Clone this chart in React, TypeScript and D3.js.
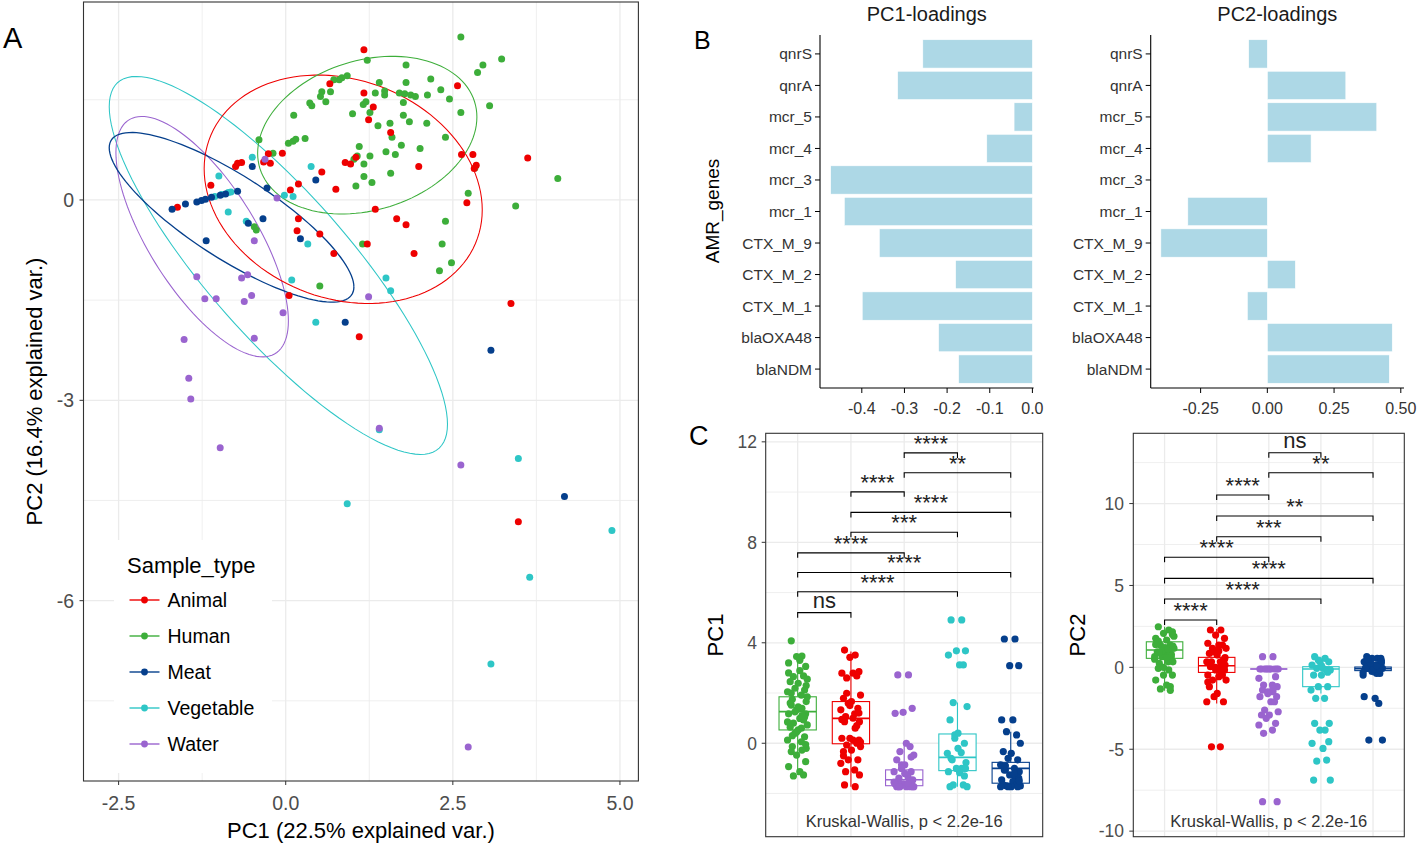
import React from 'react';
import * as d3 from 'd3';

const FONT = '"Liberation Sans", Arial, Helvetica, sans-serif';

// ---------- Panel A : PCA biplot ----------
const SAMPLE_TYPES = ['Animal', 'Human', 'Meat', 'Vegetable', 'Water'];
const TYPE_COLORS = ['#EE0000', '#3DAE3A', '#053F8C', '#2EC6C6', '#9A64CF'];

const PCA_HUMAN: [number, number][] = [
  [2.62, 2.44], [3.23, 2.11], [2.95, 2.02], [2.87, 1.91], [1.22, 2.09], [1.80, 2.02], [0.84, 1.83], [0.80, 1.80],
  [0.92, 1.86], [0.72, 1.80], [2.17, 1.81], [1.80, 1.76], [1.40, 1.76], [0.54, 1.62], [0.67, 1.62], [0.52, 1.55],
  [0.60, 1.47], [0.36, 1.45], [0.39, 1.41], [1.34, 1.60], [1.48, 1.57], [1.48, 1.63], [1.70, 1.60], [1.78, 1.59],
  [1.87, 1.57], [1.94, 1.55], [2.12, 1.57], [2.32, 1.65], [2.45, 1.51], [3.05, 1.41], [1.76, 1.46], [1.16, 1.43],
  [1.20, 1.47], [1.00, 1.29], [1.26, 1.31], [0.12, 1.27], [2.62, 1.31], [1.76, 1.27], [1.85, 1.17], [1.56, 1.15],
  [1.38, 1.11], [2.11, 1.15], [1.59, 0.94], [2.39, 0.94], [-0.40, 0.90], [0.04, 0.85], [0.11, 0.88], [0.15, 0.91],
  [0.29, 0.92], [1.10, 0.80], [1.73, 0.82], [2.01, 0.77], [1.50, 0.72], [1.64, 0.68], [1.07, 0.66], [1.02, 0.61],
  [1.26, 0.66], [1.17, 0.54], [1.57, 0.40], [1.17, 0.35], [1.29, 0.26], [1.05, 0.21], [-0.19, 0.70], [2.83, 0.48],
  [4.07, 0.32], [2.73, 0.10], [3.44, -0.09], [2.39, -0.32], [2.34, -0.66], [1.15, -0.66], [2.48, -0.94], [2.30, -1.06],
  [0.51, -1.29], [-0.47, -0.40], [-0.44, -0.45],
];
const PCA_ANIMAL: [number, number][] = [
  [1.17, 2.25], [2.57, 1.71], [0.66, 1.74], [1.17, 1.60], [1.31, 1.39], [1.24, 1.20], [1.57, 1.01], [3.62, 0.63],
  [2.63, 0.68], [2.80, 0.68], [2.85, 0.52], [2.82, 0.47], [1.99, 0.50], [0.89, 0.56], [0.97, 0.54], [1.05, 0.64],
  [0.54, 0.42], [0.75, 0.16], [-0.05, 0.70], [-0.26, 0.69], [-0.33, 0.57], [-0.23, 0.55], [-0.72, 0.55], [-0.66, 0.56],
  [-0.75, 0.50], [-1.12, 0.22], [-1.62, -0.11], [0.07, 0.15], [0.19, 0.24], [1.34, -0.14], [2.71, -0.04], [1.66, -0.28],
  [1.80, -0.37], [0.19, -0.28], [0.17, -0.46], [0.51, -0.51], [1.22, -0.66], [0.72, -0.80], [1.92, -0.80], [0.05, -1.43],
  [3.37, -1.55], [1.10, -2.05], [3.48, -4.82],
];
const PCA_MEAT: [number, number][] = [
  [-1.70, -0.14], [-1.50, -0.06], [-1.33, -0.03], [-1.26, -0.01], [-1.20, 0.01], [-1.11, 0.04], [-0.98, 0.07],
  [-0.90, 0.09], [-0.72, 0.13], [-0.50, 0.50], [-0.28, 0.18], [0.45, 0.30], [-0.56, -0.35], [-0.34, -0.28],
  [-1.19, -0.61], [0.22, -0.58], [0.89, -1.83], [3.07, -2.25], [4.17, -4.44],
];
const PCA_VEGETABLE: [number, number][] = [
  [-0.50, 0.64], [-1.00, 0.36], [-0.86, 0.11], [-0.82, 0.12], [-1.06, 0.05], [-0.96, 0.08], [-0.86, -0.18],
  [-0.59, -0.32], [0.38, 0.50], [-0.02, 0.07], [0.11, 0.05], [0.33, -0.66], [0.09, -1.20], [1.50, -1.17],
  [1.57, -1.36], [0.45, -1.83], [1.40, -3.44], [3.48, -3.87], [0.92, -4.55], [4.88, -4.95], [3.65, -5.65], [3.07, -6.95],
];
const PCA_WATER: [number, number][] = [
  [-0.31, 0.61], [-0.13, 0.03], [-0.47, -0.61], [-1.33, -1.15], [-0.66, -1.17], [-0.57, -1.12], [-1.21, -1.48],
  [-1.04, -1.48], [-0.62, -1.52], [-0.51, -1.43], [-0.04, -1.69], [1.24, -1.45], [-1.52, -2.09], [-0.47, -2.07],
  [-1.45, -2.67], [-1.42, -2.98], [-0.98, -3.71], [1.40, -3.42], [2.62, -3.97], [2.73, -8.19],
];
const PCA_POINTS: Record<string, [number, number][]> = {
  Human: PCA_HUMAN, Animal: PCA_ANIMAL, Meat: PCA_MEAT, Vegetable: PCA_VEGETABLE, Water: PCA_WATER,
};
const DRAW_ORDER_A = ['Human', 'Animal', 'Vegetable', 'Meat', 'Water'];

// normal-data ellipses: centre, half extents and correlation
const ELLIPSES = [
  { type: 'Vegetable', cx: -0.11, cy: -0.98, rx: 2.53, ry: 2.83, rho: -0.84 },
  { type: 'Water', cx: -1.25, cy: -0.55, rx: 1.29, ry: 1.80, rho: -0.70 },
  { type: 'Meat', cx: -0.81, cy: -0.26, rx: 1.83, ry: 1.27, rho: -0.82 },
  { type: 'Animal', cx: 0.86, cy: 0.16, rx: 2.08, ry: 1.71, rho: -0.18 },
  { type: 'Human', cx: 1.22, cy: 0.97, rx: 1.64, ry: 1.18, rho: 0.23 },
];
const A_X_TICKS = [-2.5, 0, 2.5, 5];
const A_X_MINOR = [-1.25, 1.25, 3.75];
const A_Y_TICKS = [0, -3, -6];
const A_Y_MINOR = [1.5, -1.5, -4.5, -7.5];

// ---------- Panel B : loadings ----------
const GENES = ['qnrS', 'qnrA', 'mcr_5', 'mcr_4', 'mcr_3', 'mcr_1', 'CTX_M_9', 'CTX_M_2', 'CTX_M_1', 'blaOXA48', 'blaNDM'];
const PC1_LOADINGS = [-0.257, -0.316, -0.043, -0.107, -0.473, -0.441, -0.359, -0.180, -0.399, -0.220, -0.173];
const PC2_LOADINGS = [-0.070, 0.294, 0.410, 0.164, 0.0, -0.298, -0.399, 0.105, -0.075, 0.468, 0.457];
const PC1_LOAD_TICKS = [-0.4, -0.3, -0.2, -0.1, 0.0];
const PC2_LOAD_TICKS = [-0.25, 0, 0.25, 0.5];

// ---------- Panel C : PC scores by sample type ----------
const BOX_ORDER = ['Human', 'Animal', 'Water', 'Vegetable', 'Meat'];

const PC1_SCORES: Record<string, number[]> = {
  Human: [4.08, 3.47, 3.45, 3.06, 3.2, 2.89, 2.68, 2.65, 2.55, 2.45, 2.39, 2.19, 2.12, 2.05, 1.92, 1.75, 1.66, 1.52,
    1.39, 1.33, 1.17, 1.17, 0.99, 0.93, 0.80, 0.73, 0.64, 0.53, 0.40, 0.26, 0.13, 0.06, -0.13, -0.2, -0.33, -0.27,
    -0.47, -0.73, -0.93, -1.13, -1.26, -1.30, 1.85, 1.6, 1.45, 1.25, 1.05, 0.85, 0.6, 0.3, 2.3, 2.0, 1.1, 0.45, -0.05, 2.8, 3.3],
  Animal: [3.71, 3.51, 3.42, 2.85, 2.79, 2.79, 2.68, 1.99, 1.92, 1.79, 1.66, 1.59, 1.39, 1.33, 1.17, 1.06, 0.86, 0.86,
    0.6, 0.2, 0.13, 0.2, 0.13, 0.0, -0.07, -0.13, -0.33, -0.27, -0.66, -0.66, -0.8, -1.06, -1.13, -1.26, -1.66, -1.73,
    1.5, 1.2, 0.95, 1.0, 0.7, 2.6, 0.05, -0.5],
  Water: [2.72, 2.72, 1.23, 1.39, 1.19, 0.0, -0.13, -0.33, -0.47, -0.66, -0.86, -0.86, -1.13, -1.13, -1.33, -1.39,
    -1.46, -1.53, -1.66, -1.62, -1.70, -1.62, -1.73, -1.73, -1.73, -1.73, -1.73, -1.2, -1.0, -0.55, -1.55, -1.6, -1.73, -1.73],
  Vegetable: [4.91, 4.91, 3.68, 3.68, 3.51, 3.12, 3.12, 1.62, 1.46, 0.93, 0.40, 0.33, 0.0, -0.4, -0.37, -0.66, -0.77,
    -0.6, -1.0, -1.0, -1.0, -1.13, -1.17, -1.66, -1.66, -1.73, -1.73, -0.2, 0.2, -1.3],
  Meat: [4.15, 4.15, 3.09, 3.09, 0.93, 0.93, 0.33, 0.46, 0.0, -0.33, -0.4, -0.6, -0.66, -0.86, -1.0, -1.06, -1.13,
    -1.06, -1.33, -1.26, -1.39, -1.46, -1.53, -1.66, -1.7, -1.7, -1.66, -1.73, -1.73, -1.73, -1.73, -1.2, -0.9, -1.5],
};
const PC2_SCORES: Record<string, number[]> = {
  Human: [2.48, 2.28, 2.08, 2.17, 1.77, 1.67, 1.36, 1.36, 1.16, 0.95, 0.95, 0.65, 0.65, 0.65, 0.34, 0.24, 0.34, -0.06,
    -0.16, -0.47, -0.47, -0.78, -1.08, -1.18, -1.32, 1.9, 1.5, 1.2, 1.0, 0.8, 0.5, 1.1, 0.9, 1.3, 1.6, 0.7, 0.0, 2.0,
    1.4, 0.6, -1.4],
  Animal: [2.28, 2.28, 1.97, 1.77, 1.47, 1.36, 1.36, 1.16, 1.16, 0.85, 0.75, 0.95, 0.45, 0.34, 0.34, 0.34, 0.14, 0.04,
    0.04, -0.16, -0.16, -0.47, -0.57, -0.47, -0.78, -0.78, -1.18, -1.59, -1.79, -2.1, -2.1, -4.85, -4.85, 0.6, 0.2,
    -0.3, 0.0, 0.5, -0.9, 1.0],
  Water: [0.65, 0.65, -0.1, -0.1, -0.1, -0.1, -0.1, -0.1, -0.1, -0.1, -0.1, -0.1, -0.57, -0.67, -1.08, -1.08, -1.18,
    -1.39, -1.49, -1.49, -1.79, -1.79, -2.1, -2.1, -2.61, -2.71, -2.91, -2.91, -3.11, -3.42, -3.52, -3.83, -4.03,
    -8.2, -8.2, -1.3, -1.6],
  Vegetable: [0.65, 0.55, 0.34, 0.34, 0.14, -0.06, -0.16, -0.06, -0.16, -0.47, -0.47, -1.18, -1.18, -1.39, -1.89, -1.89,
    -3.42, -3.42, -3.83, -3.83, -4.54, -4.64, -4.95, -5.66, -5.72, -6.88, -6.88, 0.1, 0.45, -0.3],
  Meat: [0.65, 0.55, 0.55, 0.55, 0.34, 0.14, 0.14, 0.04, -0.06, -0.06, -0.06, -0.06, -0.37, -0.47, -0.37, -0.06, 0.3,
    0.45, -0.2, -0.25, 0.2, -1.79, -1.89, -2.2, -4.44, -4.44, 0.0, -0.1, 0.25, -0.15, -0.3, 0.1, 0.5, 0.4],
};
// fixed horizontal jitter pattern (category units)
const JITTER = [-0.12, 0.08, -0.02, 0.15, -0.17, 0.04, 0.11, -0.08, 0.18, -0.14, 0.01, -0.05, 0.13, -0.19, 0.07, -0.1, 0.16];

// box stats: [q1, median, q3, lower whisker, upper whisker]
const PC1_BOX: Record<string, number[]> = {
  Human: [0.53, 1.26, 1.85, -1.26, 3.51],
  Animal: [-0.02, 0.99, 1.66, -1.73, 3.65],
  Water: [-1.69, -1.45, -1.06, -1.73, 0.0],
  Vegetable: [-1.09, -0.56, 0.37, -1.73, 1.62],
  Meat: [-1.59, -1.0, -0.76, -1.73, 0.46],
};
const PC2_BOX: Record<string, number[]> = {
  Human: [0.55, 1.06, 1.56, -1.43, 2.48],
  Animal: [-0.31, 0.1, 0.61, -2.2, 2.34],
  Water: [-0.1, -0.1, -0.1, -0.1, -0.1],
  Vegetable: [-1.18, -0.1, 0.04, -1.6, 0.65],
  Meat: [-0.2, -0.08, 0.02, -0.5, 0.55],
};
// pairwise comparisons: [group1, group2, label, bracket y]
const PC1_COMPARISONS: [string, string, string, number][] = [
  ['Human', 'Animal', 'ns', 5.2], ['Human', 'Vegetable', '****', 6.03], ['Human', 'Meat', '****', 6.8],
  ['Human', 'Water', '****', 7.58], ['Animal', 'Vegetable', '***', 8.4], ['Animal', 'Meat', '****', 9.19],
  ['Animal', 'Water', '****', 10.01], ['Water', 'Meat', '**', 10.77], ['Water', 'Vegetable', '****', 11.56],
];
const PC2_COMPARISONS: [string, string, string, number][] = [
  ['Human', 'Animal', '****', 2.89], ['Human', 'Vegetable', '****', 4.17], ['Human', 'Meat', '****', 5.43],
  ['Human', 'Water', '****', 6.72], ['Animal', 'Vegetable', '***', 7.97], ['Animal', 'Meat', '**', 9.24],
  ['Animal', 'Water', '****', 10.52], ['Water', 'Meat', '**', 11.88], ['Water', 'Vegetable', 'ns', 13.1],
];
const PC1_TICKS = [0, 4, 8, 12];
const PC1_MINOR = [-2, 2, 6, 10];
const PC2_TICKS = [-10, -5, 0, 5, 10];
const PC2_MINOR = [-7.5, -2.5, 2.5, 7.5, 12.5];
const KW_TEXT = 'Kruskal-Wallis, p < 2.2e-16';

const colorOf = (t: string) => TYPE_COLORS[SAMPLE_TYPES.indexOf(t)];
const GRID = '#EBEBEB';

function PanelA() {
  const L = 83.5, R = 638.4, T = 2, B = 781;
  const x = d3.scaleLinear().domain([-3.025, 5.276]).range([L, R]);
  const y = d3.scaleLinear().domain([2.964, -8.70]).range([T, B]);
  const line = d3.line<[number, number]>().x(d => x(d[0])).y(d => y(d[1]));
  const ell = (e: typeof ELLIPSES[0]) => {
    const pts: [number, number][] = d3.range(0, 121).map(i => {
      const t = (2 * Math.PI * i) / 120;
      return [e.cx + e.rx * Math.cos(t), e.cy + e.ry * (e.rho * Math.cos(t) + Math.sqrt(1 - e.rho * e.rho) * Math.sin(t))];
    });
    return line(pts) as string;
  };
  const legY = d3.scalePoint<string>().domain(SAMPLE_TYPES).range([600, 744]);
  return (
    <g>
      <rect x={L} y={T} width={R - L} height={B - T} fill="#fff" />
      {A_X_MINOR.map(v => <line key={'xm' + v} x1={x(v)} x2={x(v)} y1={T} y2={B} stroke={GRID} strokeWidth={0.8} />)}
      {A_Y_MINOR.map(v => <line key={'ym' + v} x1={L} x2={R} y1={y(v)} y2={y(v)} stroke={GRID} strokeWidth={0.8} />)}
      {A_X_TICKS.map(v => <line key={'xg' + v} x1={x(v)} x2={x(v)} y1={T} y2={B} stroke={GRID} strokeWidth={1.3} />)}
      {A_Y_TICKS.map(v => <line key={'yg' + v} x1={L} x2={R} y1={y(v)} y2={y(v)} stroke={GRID} strokeWidth={1.3} />)}
      {ELLIPSES.map(e => (
        <path key={e.type} d={ell(e)} fill="none" stroke={colorOf(e.type)} strokeWidth={e.type === 'Meat' ? 1.3 : 1.05} />
      ))}
      {DRAW_ORDER_A.map(t => PCA_POINTS[t].map((p, i) => (
        <circle key={t + i} cx={x(p[0])} cy={y(p[1])} r={3.5} fill={colorOf(t)} />
      )))}
      {/* legend */}
      <rect x={114} y={540} width={158} height={233} fill="#fff" />
      <text x={127} y={573} fontSize={22} fontFamily={FONT} fill="#000">Sample_type</text>
      {SAMPLE_TYPES.map((t, i) => (
        <g key={t}>
          <line x1={129.5} x2={159.5} y1={legY(t)} y2={legY(t)} stroke={TYPE_COLORS[i]} strokeWidth={1.4} />
          <circle cx={144.5} cy={legY(t)} r={3.4} fill={TYPE_COLORS[i]} />
          <text x={167.5} y={(legY(t) as number) + 7} fontSize={19.5} fontFamily={FONT} fill="#000">{t}</text>
        </g>
      ))}
      <rect x={L} y={T} width={R - L} height={B - T} fill="none" stroke="#333" strokeWidth={1.1} />
      {A_X_TICKS.map(v => (
        <g key={'xt' + v}>
          <line x1={x(v)} x2={x(v)} y1={B} y2={B + 4} stroke="#333" />
          <text x={x(v)} y={810} textAnchor="middle" fontSize={19.5} fontFamily={FONT} fill="#4D4D4D">{v.toFixed(1)}</text>
        </g>
      ))}
      {A_Y_TICKS.map(v => (
        <g key={'yt' + v}>
          <line x1={L - 4} x2={L} y1={y(v)} y2={y(v)} stroke="#333" />
          <text x={74} y={y(v) + 7} textAnchor="end" fontSize={19.5} fontFamily={FONT} fill="#4D4D4D">{v}</text>
        </g>
      ))}
      <text x={(L + R) / 2} y={838} textAnchor="middle" fontSize={22} fontFamily={FONT} fill="#000">PC1 (22.5% explained var.)</text>
      <text transform={`translate(42,${(T + B) / 2}) rotate(-90)`} textAnchor="middle" fontSize={22} fontFamily={FONT} fill="#000">PC2 (16.4% explained var.)</text>
      <text x={3} y={48} fontSize={29} fontFamily={FONT} fill="#000">A</text>
    </g>
  );
}

function LoadingPanel({ values, ticks, domain, left, right, title, fmt }:
  { values: number[]; ticks: number[]; domain: [number, number]; left: number; right: number; title: string; fmt: (v: number) => string }) {
  const T = 35, B = 388;
  const x = d3.scaleLinear().domain(domain).range([left, right]);
  const y = d3.scalePoint<string>().domain(GENES).range([T, B]).padding(0.6);
  const bh = y.step() * 0.9;
  return (
    <g>
      {GENES.map((g, i) => {
        const v = values[i];
        const x0 = x(Math.min(0, v)), x1 = x(Math.max(0, v));
        return <rect key={g} x={x0} y={(y(g) as number) - bh / 2} width={Math.max(0, x1 - x0)} height={bh}
          fill="#ADD8E6" stroke="#fff" strokeWidth={0.6} />;
      })}
      <line x1={left} x2={left} y1={T} y2={B} stroke="#000" strokeWidth={1.1} />
      <line x1={left} x2={right} y1={B} y2={B} stroke="#000" strokeWidth={1.1} />
      {GENES.map(g => (
        <g key={'l' + g}>
          <line x1={left - 5} x2={left} y1={y(g)} y2={y(g)} stroke="#000" />
          <text x={left - 8} y={(y(g) as number) + 5.5} textAnchor="end" fontSize={15.5} fontFamily={FONT} fill="#333">{g}</text>
        </g>
      ))}
      {ticks.map(v => (
        <g key={'t' + v}>
          <line x1={x(v)} x2={x(v)} y1={B} y2={B + 5} stroke="#000" />
          <text x={x(v)} y={413.5} textAnchor="middle" fontSize={16} fontFamily={FONT} fill="#333">{fmt(v)}</text>
        </g>
      ))}
      <text x={(left + right) / 2} y={21} textAnchor="middle" fontSize={20} fontFamily={FONT} fill="#1a1a1a">{title}</text>
    </g>
  );
}

function ScorePanel({ id, left, right, domain, scores, boxes, comps, ticks, minor, title, titleX, tickX }:
  {
    id: string; left: number; right: number; domain: [number, number]; scores: Record<string, number[]>;
    boxes: Record<string, number[]>; comps: [string, string, string, number][]; ticks: number[]; minor: number[];
    title: string; titleX: number; tickX: number
  }) {
  const T = 433.3, B = 836.7;
  const x = d3.scalePoint<string>().domain(BOX_ORDER).range([left, right]).padding(0.6);
  const y = d3.scaleLinear().domain(domain).range([B, T]);
  const step = x.step();
  const bw = step * 0.7;
  return (
    <g>
      <defs>
        <clipPath id={id}><rect x={left} y={T} width={right - left} height={B - T} /></clipPath>
      </defs>
      <rect x={left} y={T} width={right - left} height={B - T} fill="#fff" />
      <g clipPath={`url(#${id})`}>
        {minor.map(v => <line key={'m' + v} x1={left} x2={right} y1={y(v)} y2={y(v)} stroke={GRID} strokeWidth={0.8} />)}
        {ticks.map(v => <line key={'g' + v} x1={left} x2={right} y1={y(v)} y2={y(v)} stroke={GRID} strokeWidth={1.3} />)}
        {BOX_ORDER.map(g => <line key={'v' + g} x1={x(g)} x2={x(g)} y1={T} y2={B} stroke={GRID} strokeWidth={1.3} />)}
        {BOX_ORDER.map(g => {
          const [q1, md, q3, lo, hi] = boxes[g];
          const cx = x(g) as number;
          const c = colorOf(g);
          return (
            <g key={'b' + g}>
              <line x1={cx} x2={cx} y1={y(q3)} y2={y(hi)} stroke={c} strokeWidth={1.1} />
              <line x1={cx} x2={cx} y1={y(q1)} y2={y(lo)} stroke={c} strokeWidth={1.1} />
              <rect x={cx - bw / 2} y={y(q3)} width={bw} height={Math.max(0.01, y(q1) - y(q3))} fill="#fff" stroke={c} strokeWidth={1.1} />
              <line x1={cx - bw / 2} x2={cx + bw / 2} y1={y(md)} y2={y(md)} stroke={c} strokeWidth={1.6} />
            </g>
          );
        })}
        {BOX_ORDER.map(g => scores[g].map((v, i) => (
          <circle key={g + i} cx={(x(g) as number) + JITTER[i % JITTER.length] * step} cy={y(v)} r={3.6} fill={colorOf(g)} />
        )))}
        {comps.map(([a, b, lab, v], i) => {
          const xa = x(a) as number, xb = x(b) as number, yy = y(v);
          return (
            <g key={'c' + i}>
              <path d={`M${xa},${yy + 5}V${yy}H${xb}V${yy + 5}`} fill="none" stroke="#000" strokeWidth={1.1} />
              <text x={(xa + xb) / 2} y={yy - (lab === 'ns' ? 5 : 2)} textAnchor="middle" fontSize={22} fontFamily={FONT} fill="#222">{lab}</text>
            </g>
          );
        })}
        <text x={(left + right) / 2} y={826.5} textAnchor="middle" fontSize={16.5} fontFamily={FONT} fill="#333">{KW_TEXT}</text>
      </g>
      <rect x={left} y={T} width={right - left} height={B - T} fill="none" stroke="#333" strokeWidth={1.1} />
      {ticks.filter(v => v >= domain[0] && v <= domain[1]).map(v => (
        <g key={'t' + v}>
          <line x1={left - 4} x2={left} y1={y(v)} y2={y(v)} stroke="#333" />
          <text x={tickX} y={y(v) + 6.3} textAnchor="end" fontSize={17.5} fontFamily={FONT} fill="#4D4D4D">{v}</text>
        </g>
      ))}
      <text transform={`translate(${titleX},${(T + B) / 2}) rotate(-90)`} textAnchor="middle" fontSize={22} fontFamily={FONT} fill="#000">{title}</text>
    </g>
  );
}

export default function App() {
  return (
    <svg width={1418} height={846} style={{ position: 'absolute', left: 0, top: 0, background: '#fff' }}>
      <rect x={0} y={0} width={1418} height={846} fill="#fff" />
      <PanelA />
      <LoadingPanel values={PC1_LOADINGS} ticks={PC1_LOAD_TICKS} domain={[-0.498, 0.0028]} left={820} right={1033.6}
        title="PC1-loadings" fmt={v => v.toFixed(1)} />
      <LoadingPanel values={PC2_LOADINGS} ticks={PC2_LOAD_TICKS} domain={[-0.437, 0.512]} left={1150.7} right={1404}
        title="PC2-loadings" fmt={v => v.toFixed(2)} />
      <text transform="translate(719,211) rotate(-90)" textAnchor="middle" fontSize={19} fontFamily={FONT} fill="#000">AMR_genes</text>
      <text x={694} y={48.5} fontSize={25} fontFamily={FONT} fill="#000">B</text>
      <ScorePanel id="clipC1" left={765.7} right={1042.7} domain={[-3.72, 12.34]} scores={PC1_SCORES} boxes={PC1_BOX}
        comps={PC1_COMPARISONS} ticks={PC1_TICKS} minor={PC1_MINOR} title="PC1" titleX={723} tickX={757} />
      <ScorePanel id="clipC2" left={1133.3} right={1404.3} domain={[-10.34, 14.29]} scores={PC2_SCORES} boxes={PC2_BOX}
        comps={PC2_COMPARISONS} ticks={PC2_TICKS} minor={PC2_MINOR} title="PC2" titleX={1085} tickX={1124} />
      <text x={689} y={445} fontSize={27} fontFamily={FONT} fill="#000">C</text>
    </svg>
  );
}
